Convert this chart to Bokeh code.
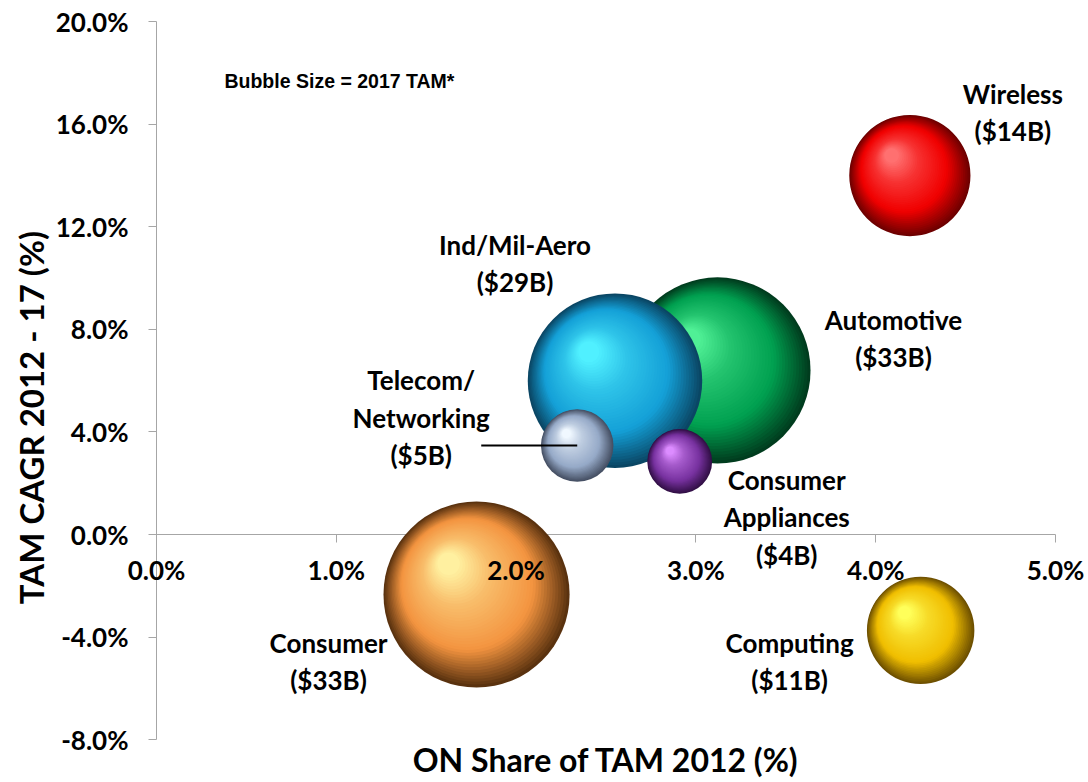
import numpy as np
from bokeh.plotting import figure
from bokeh.models import (ColumnDataSource, FixedTicker, PrintfTickFormatter,
                          LinearAxis, Label, Range1d)
from bokeh.core.properties import value
from bokeh.embed import file_html
from bokeh.resources import INLINE

# ---------------- data ----------------
segments = ["Consumer", "Automotive", "Ind/Mil-Aero", "Wireless",
            "Computing", "Telecom/Networking", "Consumer Appliances"]
on_share_2012 = [1.78, 3.12, 2.55, 4.19, 4.25, 2.34, 2.91]      # x, %
tam_cagr = [-2.34, 6.40, 6.00, 14.00, -3.74, 3.47, 2.85]        # y, %
tam_2017 = [33, 33, 29, 14, 11, 5, 4]                           # $B, bubble size
label_text = ["Consumer\n($33B)", "Automotive\n($33B)", "Ind/Mil-Aero\n($29B)",
              "Wireless\n($14B)", "Computing\n($11B)",
              "Telecom/\nNetworking\n($5B)", "Consumer\nAppliances\n($4B)"]
x_ticks = [0, 1, 2, 3, 4, 5]
y_ticks = [-8, -4, 0, 4, 8, 12, 16, 20]

# ---------------- styles ----------------
base_colors = ["#F39440", "#00A050", "#14A0D7", "#F00000", "#F0BE00", "#96AAC8", "#7832A0"]
light_colors = ["#FFF0A0", "#50F096", "#50F0FF", "#FF7070", "#FFFF5A", "#F0F8FF", "#DC8CFF"]
dark_colors = ["#5A320F", "#003C1E", "#0A4664", "#6E0000", "#6E5000", "#465064", "#320F46"]
label_dx = [-148, 176, -100, 103, -131, -156, 107]
label_dy = [67, -32, -117, -63, 31, -28, 56]

W, H = 1086, 780
PX_X, PX_Y = 179.8, 25.64         # pixels per % on each axis
ORIGIN_X, ORIGIN_Y = 156, 534     # canvas pixel of (0%, 0%) from top-left
X_START = -ORIGIN_X / PX_X
X_END = (W - ORIGIN_X) / PX_X
Y_END = ORIGIN_Y / PX_Y
Y_START = (ORIGIN_Y - H) / PX_Y
K = 16.2  # px radius per sqrt($B)

FONT_NAME = "Lato"
AXIS_GRAY = "#A6A6A6"


def hex2rgb(h):
    h = h.lstrip("#")
    return np.array([int(h[i:i + 2], 16) for i in (0, 2, 4)], dtype=float)


def ramp(dark, base, light, t):
    d, b, l = hex2rgb(dark), hex2rgb(base), hex2rgb(light)
    stops = [(0.0, d), (0.32, b), (0.72, b * 0.55 + l * 0.45), (1.0, l)]
    for (t0, c0), (t1, c1) in zip(stops[:-1], stops[1:]):
        if t <= t1:
            f = (t - t0) / (t1 - t0)
            c = c0 + (c1 - c0) * f
            return "#%02x%02x%02x" % tuple(int(round(v)) for v in c)
    return "#%02x%02x%02x" % tuple(int(v) for v in l)


p = figure(width=W, height=H, x_range=Range1d(X_START, X_END),
           y_range=Range1d(Y_START, Y_END),
           output_backend="svg", toolbar_location=None, min_border=0)
p.xgrid.visible = False
p.ygrid.visible = False
p.outline_line_color = None
p.background_fill_color = "white"
p.border_fill_color = "white"

# x axis line + ticks at y=0 (under bubbles)
xa = p.xaxis[0]
xa.fixed_location = 0
xa.bounds = (x_ticks[0], x_ticks[-1])
xa.ticker = FixedTicker(ticks=x_ticks)
xa.axis_line_color = AXIS_GRAY
xa.major_tick_line_color = AXIS_GRAY
xa.major_tick_in = 0
xa.major_tick_out = 8
xa.minor_tick_line_color = None
xa.major_label_text_color = None
xa.level = "underlay"

# x tick labels (over bubbles)
xl = LinearAxis(fixed_location=0, bounds=(x_ticks[0], x_ticks[-1]),
                ticker=FixedTicker(ticks=x_ticks),
                formatter=PrintfTickFormatter(format="%.1f%%"),
                axis_line_color=None, major_tick_line_color=None,
                minor_tick_line_color=None, major_tick_in=0, major_tick_out=0,
                major_label_standoff=19, major_label_text_font=FONT_NAME,
                major_label_text_font_style="bold",
                major_label_text_font_size="26px",
                major_label_text_color="black", level="overlay")
p.add_layout(xl, "below")

ya = p.yaxis[0]
ya.fixed_location = 0
ya.bounds = (y_ticks[0], y_ticks[-1])
ya.ticker = FixedTicker(ticks=y_ticks)
ya.formatter = PrintfTickFormatter(format="%.1f%%")
ya.axis_line_color = AXIS_GRAY
ya.major_tick_line_color = AXIS_GRAY
ya.major_tick_in = 0
ya.major_tick_out = 8
ya.minor_tick_line_color = None
ya.major_label_standoff = 20
ya.major_label_text_font = FONT_NAME
ya.major_label_text_font_style = "bold"
ya.major_label_text_font_size = "26px"
ya.major_label_text_color = "black"

# ---------------- bubbles (shaded spheres) ----------------
N = 40
ts = np.linspace(0, 1, N)
for i in range(len(segments)):
    r = K * np.sqrt(tam_2017[i])
    radii = r * (1 - 0.88 * ts)
    hx, hy = -0.30 * r, 0.33 * r
    xs = on_share_2012[i] + ts * hx / PX_X
    ys = tam_cagr[i] + ts * hy / PX_Y
    cols = [ramp(dark_colors[i], base_colors[i], light_colors[i], t) for t in ts]
    src = ColumnDataSource(dict(x=xs, y=ys, r=radii, c=cols))
    p.circle("x", "y", radius="r", radius_units="screen", fill_color="c",
             line_color=None, source=src)

# leader line for Telecom/Networking
ti = segments.index("Telecom/Networking")
p.ray(x=[on_share_2012[ti]], y=[tam_cagr[ti]], length=96, length_units="screen",
      angle=np.pi, line_color="black", line_width=2)

# ---------------- labels ----------------
lsrc = ColumnDataSource(dict(x=on_share_2012, y=tam_cagr, t=label_text,
                             dx=label_dx, dy=label_dy))
p.text("x", "y", text="t", x_offset="dx", y_offset="dy", source=lsrc,
       text_align="center", text_baseline="middle", text_font=value(FONT_NAME),
       text_font_style="bold", text_font_size="26px", text_color="black",
       text_line_height=1.16)

p.add_layout(Label(x=0.378, y=17.7, text="Bubble Size = 2017 TAM*",
                   text_font="Liberation Sans", text_font_style="bold",
                   text_font_size="19.5px", text_align="left",
                   text_baseline="middle", text_color="black"))

p.add_layout(Label(x=2.5, y=-8.78, text="ON Share of TAM 2012 (%)",
                   text_font=FONT_NAME, text_font_style="bold", text_font_size="32px",
                   text_align="center", text_baseline="middle", text_color="black"))

p.add_layout(Label(x=-0.70, y=4.56, text="TAM CAGR 2012 - 17 (%)", angle=np.pi / 2,
                   text_font=FONT_NAME, text_font_style="bold", text_font_size="33px",
                   text_align="center", text_baseline="middle", text_color="black"))

open("out.html", "w").write(file_html(p, INLINE))
